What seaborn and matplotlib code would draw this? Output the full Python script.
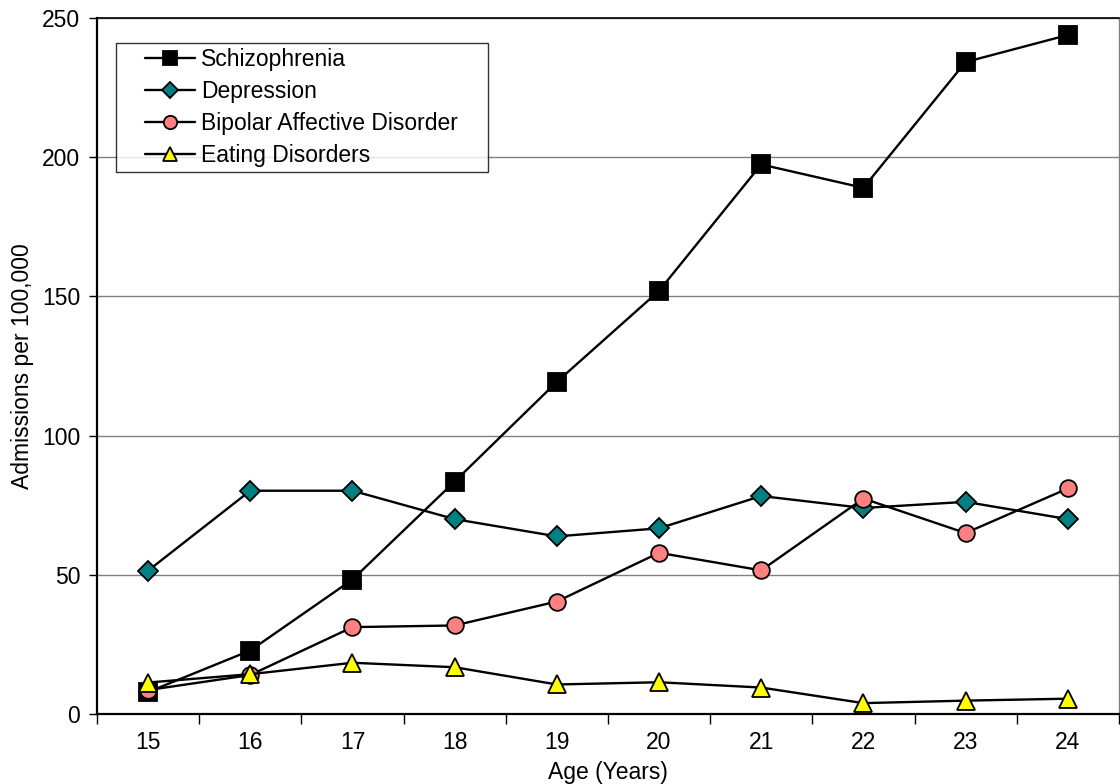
import matplotlib
matplotlib.use("Agg")
import matplotlib.pyplot as plt
from matplotlib.lines import Line2D
from matplotlib.legend_handler import HandlerLine2D
import seaborn as sns
import numpy as np
import pandas as pd

sns.set_theme(style="white")
plt.rcParams["font.family"] = ["Liberation Sans", "DejaVu Sans"]
plt.rcParams.update({"text.color": "black", "axes.labelcolor": "black",
                     "xtick.color": "black", "ytick.color": "black"})

ages = ["15", "16", "17", "18", "19", "20", "21", "22", "23", "24"]
schizophrenia = [7.9, 22.8, 48.3, 83.5, 119.3, 152.0, 197.4, 189.0, 234.2, 243.9]
depression = [51.5, 80.2, 80.2, 70.0, 63.8, 66.7, 78.3, 74.0, 76.2, 70.0]
bipolar = [8.6, 14.0, 31.2, 31.8, 40.4, 57.9, 51.6, 77.4, 65.0, 81.0]
eating = [11.3, 14.3, 18.4, 16.8, 10.6, 11.4, 9.5, 3.9, 4.8, 5.5]

series = [
    ("Schizophrenia", schizophrenia, "s", "#000000", 12.5),
    ("Depression", depression, "D", "#008080", 10),
    ("Bipolar Affective Disorder", bipolar, "o", "#FF8080", 12),
    ("Eating Disorders", eating, "^", "#FFFF00", 13),
]

FS = 16.5

fig = plt.figure(figsize=(11.2, 7.84), dpi=100)
ax = fig.add_axes([0.0866, 0.0893, 0.9124, 0.8877])

pos = np.arange(len(ages))
for name, vals, mk, fc, ms in series:
    df = pd.DataFrame({"pos": pos, "value": vals})
    sns.lineplot(data=df, x="pos", y="value", ax=ax, color="black", lw=1.7,
                 marker=mk, markersize=ms, markerfacecolor=fc,
                 markeredgecolor="black", markeredgewidth=1.3, label=name,
                 zorder=3)

ax.set_xlim(-0.5, len(ages) - 0.5)
ax.set_ylim(0, 250)
ax.set_yticks(np.arange(0, 251, 50))
ax.yaxis.grid(True, color="#808080", lw=1.0)
ax.set_axisbelow(True)

# category boundaries carry the tick marks, labels sit at category centres
ax.set_xticks(np.arange(-0.5, len(ages) + 0.5, 1.0))
ax.set_xticklabels([])
ax.set_xticks(pos, minor=True)
ax.set_xticklabels(ages, minor=True)
ax.tick_params(axis="x", which="major", direction="out", length=7, width=1,
               bottom=True)
ax.tick_params(axis="x", which="minor", length=0, pad=12, labelsize=FS)
ax.tick_params(axis="y", direction="out", length=6, width=1,
               left=True, labelsize=FS, pad=6)

for side in ("left", "bottom"):
    ax.spines[side].set_color("black")
    ax.spines[side].set_linewidth(1.6)
ax.spines["right"].set_color("#808080")
ax.spines["right"].set_linewidth(1.0)
ax.spines["top"].set_color("black")
ax.spines["top"].set_linewidth(1.2)

ax.set_xlabel("Age (Years)", fontsize=FS, labelpad=5)
ax.set_ylabel("Admissions per 100,000", fontsize=FS, labelpad=6)

leg = ax.legend(loc="upper left", bbox_to_anchor=(0.0186, 0.764, 0.364, 0.2),
                mode="expand", fontsize=FS,
                frameon=True, fancybox=False, edgecolor="black",
                handlelength=3.24, handletextpad=0.26, borderpad=0.2,
                labelspacing=0.4, borderaxespad=0,
                handler_map={Line2D: HandlerLine2D(xpad=1.06)})
leg.get_frame().set_linewidth(1.0)
for h in leg.legend_handles:
    h.set_markersize(h.get_markersize() * 0.8)

fig.savefig("out.png", dpi=100)
